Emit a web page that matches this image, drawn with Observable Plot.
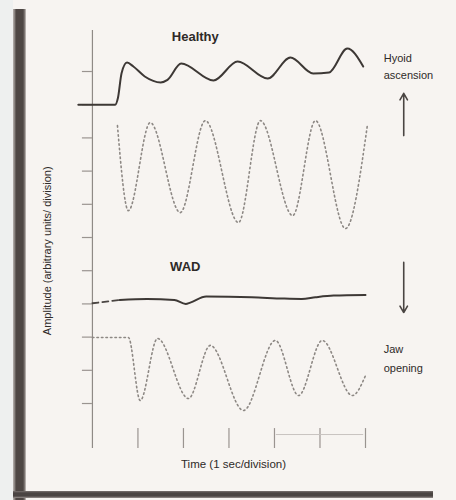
<!DOCTYPE html>
<html>
<head>
<meta charset="utf-8">
<script src="https://cdn.jsdelivr.net/npm/d3@7"></script>
<script src="https://cdn.jsdelivr.net/npm/@observablehq/plot@0.6"></script>
<style>
  html, body { margin: 0; padding: 0; background: #f7f4f1; }
  #wrap { position: relative; width: 456px; height: 500px; overflow: hidden; background: #f7f4f1; }
  #leftpad { position: absolute; left: 0; top: 0; width: 13px; height: 500px; background: #eef0ef; }
  #barL { position: absolute; left: 13px; top: 9px; width: 13px; height: 491px;
          background: linear-gradient(to right, #b8b3b0 0, #7d7672 2px, #4e4744 3px, #4e4744 10px, #8a8380 12px, #d8d3cf 13px); }
  #barB { position: absolute; left: 13px; top: 491px; width: 420px; height: 7px;
          background: linear-gradient(to bottom, #7a7370 0, #4a4442 2px, #4a4442 5px, #9a9390 7px); }
  #chart { position: absolute; left: 0; top: 0; }
</style>
</head>
<body>
<div id="wrap">
  <div id="leftpad"></div>
  <div id="barL"></div>
  <div id="barB"></div>
  <div id="chart"></div>
</div>
<script>
// Time in seconds (1 s / division); amplitude in divisions
const healthyHyoidT = [-0.31, 0.5, 0.56, 0.64, 0.76, 0.9, 1.15, 1.5, 1.65, 1.95, 2.66, 3.19, 3.85, 4.35, 4.85, 5.2, 5.6, 5.95];
const healthyHyoidA = [10.0, 10.0, 10.2, 10.95, 11.27, 11.15, 10.85, 10.67, 10.75, 11.24, 10.73, 11.30, 10.79, 11.42, 10.94, 10.97, 11.69, 11.15];

const healthyJawT = [0.55, 0.79, 1.27, 1.93, 2.48, 3.21, 3.69, 4.40, 4.90, 5.56, 6.04];
const healthyJawA = [9.37, 6.81, 9.46, 6.75, 9.52, 6.45, 9.52, 6.66, 9.52, 6.27, 9.37];

const wadHyoidT = [0, 0.6, 1.2, 1.8, 2.05, 2.15, 2.5, 3.5, 4.2, 4.6, 4.9, 5.3, 6.0];
const wadHyoidA = [4.02, 4.12, 4.15, 4.12, 4.0, 4.04, 4.22, 4.2, 4.16, 4.15, 4.2, 4.25, 4.27];

const wadJawT = [0, 0.79, 1.05, 1.43, 2.11, 2.59, 3.32, 4.02, 4.53, 5.05, 5.71, 6.0];
const wadJawA = [2.99, 2.99, 1.09, 2.96, 1.15, 2.75, 0.79, 2.90, 1.24, 2.90, 1.24, 1.84];

const yTicks = [1, 2, 3, 4, 5, 6, 7, 8, 9, 10, 11];
const xTicks = [1, 2, 3, 4, 5, 6];

const panelTitles = ["Healthy", "WAD"];
const sideLabels = ["Hyoid", "ascension", "Jaw", "opening"];
const xLabel = "Time (1 sec/division)";
const yLabel = "Amplitude (arbitrary units/ division)";

const zip = (t, a) => t.map((d, i) => ({t: d, a: a[i]}));
const healthyHyoid = zip(healthyHyoidT, healthyHyoidA);
const healthyJaw = zip(healthyJawT, healthyJawA);
const wadHyoid = zip(wadHyoidT, wadHyoidA);
const wadJaw = zip(wadJawT, wadJawA);

const Y0 = -0.355, Y1 = 12.235;
const font = "Liberation Sans, Arial, sans-serif";

const chart = Plot.plot({
  width: 456,
  height: 500,
  marginLeft: 76,
  marginRight: 91,
  marginTop: 30,
  marginBottom: 52,
  style: {background: "transparent", fontFamily: font},
  x: {domain: [-0.35, 6], axis: null},
  y: {domain: [Y0, Y1], axis: null},
  marks: [
    // y axis line and ticks
    Plot.ruleX([0], {y1: Y0, y2: Y1, stroke: "#8f8a86", strokeWidth: 1.2}),
    Plot.ruleY(yTicks, {x1: -0.22, x2: 0, stroke: "#9a9490", strokeWidth: 1.2}),
    // x ticks (inward)
    Plot.ruleX(xTicks, {y1: Y0, y2: Y0 + 0.6, stroke: "#9a9490", strokeWidth: 1.2}),
    Plot.ruleY([0.066], {x1: 4.04, x2: 5.96, stroke: "#c9c4c0", strokeWidth: 1}),
    // traces
    Plot.line(healthyJaw, {x: "t", y: "a", curve: "monotone-x", stroke: "#8d8884", strokeWidth: 1.6, strokeDasharray: "1.5,3"}),
    Plot.line(wadJaw, {x: "t", y: "a", curve: "monotone-x", stroke: "#8d8884", strokeWidth: 1.6, strokeDasharray: "1.5,3"}),
    Plot.line(healthyHyoid, {x: "t", y: "a", curve: "monotone-x", stroke: "#3d3835", strokeWidth: 2}),
    Plot.line(wadHyoid.filter(d => d.t <= 0.7), {x: "t", y: "a", stroke: "#4a4542", strokeWidth: 1.8, strokeDasharray: "6,4"}),
    Plot.line(wadHyoid.filter(d => d.t >= 0.6), {x: "t", y: "a", curve: "monotone-x", stroke: "#3d3835", strokeWidth: 2}),
    // arrows
    Plot.arrow([{x1: 6.84, y1: 9.07, x2: 6.84, y2: 10.34}, {x1: 6.84, y1: 5.25, x2: 6.84, y2: 3.74}],
      {x1: "x1", y1: "y1", x2: "x2", y2: "y2", stroke: "#4a4542", strokeWidth: 1.6, headLength: 7}),
    // titles
    Plot.text([panelTitles[0]], {x: 2.26, y: 12.05, text: d => d, fontSize: 13, fontWeight: "bold", fill: "#2e2a28"}),
    Plot.text([panelTitles[1]], {x: 2.04, y: 5.13, text: d => d, fontSize: 13, fontWeight: "bold", fill: "#2e2a28"}),
    Plot.text(sideLabels, {x: 6.4, y: [11.39, 10.88, 2.63, 2.05], text: d => d, textAnchor: "start", fontSize: 11, fill: "#2e2a28"}),
    Plot.text([xLabel], {x: 3.1, y: -0.84, text: d => d, fontSize: 11.5, fill: "#2e2a28"}),
    Plot.text([yLabel], {x: -0.99, y: 5.6, text: d => d, rotate: -90, fontSize: 11, fill: "#2e2a28"})
  ]
});
document.getElementById("chart").appendChild(chart);
</script>
</body>
</html>
